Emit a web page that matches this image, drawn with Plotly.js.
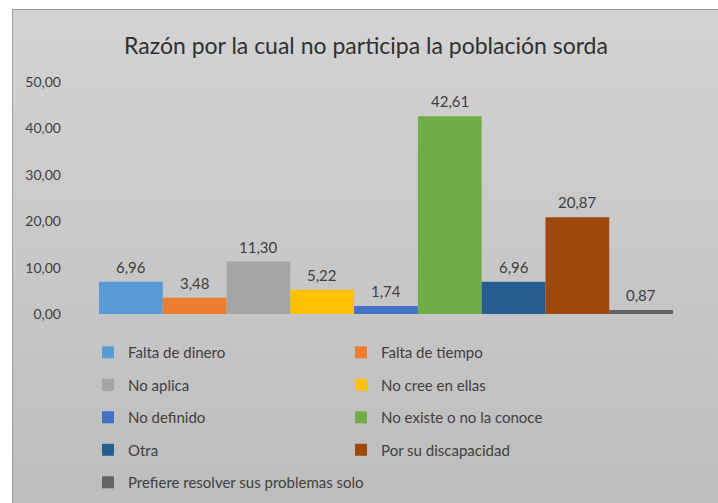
<!DOCTYPE html>
<html><head><meta charset="utf-8">
<script src="https://cdn.plot.ly/plotly-3.0.1.min.js"></script>
<style>
html,body{margin:0;padding:0;background:#fff;width:718px;height:503px;overflow:hidden;}
#chart{position:absolute;left:12px;top:9px;width:706px;height:494px;
 background:linear-gradient(#d3d3d3,#bdbdbd);border-left:1px solid #9c9c9c;border-top:1px solid #9c9c9c;box-sizing:border-box;}
</style></head>
<body><div id="chart"></div>
<script>
const categories = ["Falta de dinero","Falta de tiempo","No aplica","No cree en ellas","No definido","No existe o no la conoce","Otra","Por su discapacidad","Prefiere resolver sus problemas solo"];
const values = [6.96,3.48,11.30,5.22,1.74,42.61,6.96,20.87,0.87];
const colors = ["#5B9BD5","#ED7D31","#A5A5A5","#FFC000","#4472C4","#70AD47","#255E91","#9E480E","#636363"];
const yTicks = [0,10,20,30,40,50];

const FONT = "Lato, sans-serif";
const fmt = v => v.toFixed(2).replace('.',',');

const traces = categories.map((c,i)=>({
  type:'bar', name:c, x:[i], y:[values[i]], width:[1],
  marker:{color:colors[i], line:{width:0}},
  legend: i%2===0 ? 'legend' : 'legend2',
  legendgroup:'g'+i, hoverinfo:'skip'
}));
const annotations = categories.map((c,i)=>({
  x:i, y:values[i], xref:'x', yref:'y', text:fmt(values[i]), showarrow:false,
  yshift:15, font:{family:FONT,size:15,color:'#404040'}
}));
const legendCommon = {orientation:'v', bgcolor:'rgba(0,0,0,0)', font:{family:FONT,size:15,color:'#404040'},
  tracegroupgap:10, traceorder:'grouped', yanchor:'top', xanchor:'left', xref:'paper', yref:'container',
  itemclick:false, itemdoubleclick:false};
const layout = {
  width:706, height:494,
  paper_bgcolor:'rgba(0,0,0,0)', plot_bgcolor:'rgba(0,0,0,0)',
  margin:{l:58,r:18,t:72,b:190},
  title:{text:'Razón por la cual no participa la población sorda', font:{family:FONT,size:23,color:'#303030'},
    x:0.5, xanchor:'center', xref:'container', y:0.927, yref:'container', yanchor:'middle'},
  separators:',.',
  barmode:'overlay',
  xaxis:{range:[-0.939,8.939], showticklabels:false, showgrid:false, zeroline:false, showline:false, ticks:'', fixedrange:true},
  yaxis:{range:[0,50], tickvals:yTicks, tickformat:'.2f', showgrid:false, zeroline:false, showline:false, ticks:'',
    tickfont:{family:FONT,size:14,color:'#404040'}, ticklabelstandoff:9, fixedrange:true},
  showlegend:true,
  legend:Object.assign({x:0.027, y:0.340}, legendCommon),
  legend2:Object.assign({x:0.4286, y:0.340}, legendCommon),
  annotations:annotations
};
Plotly.newPlot('chart', traces, layout, {displayModeBar:false, staticPlot:true});
</script></body></html>
